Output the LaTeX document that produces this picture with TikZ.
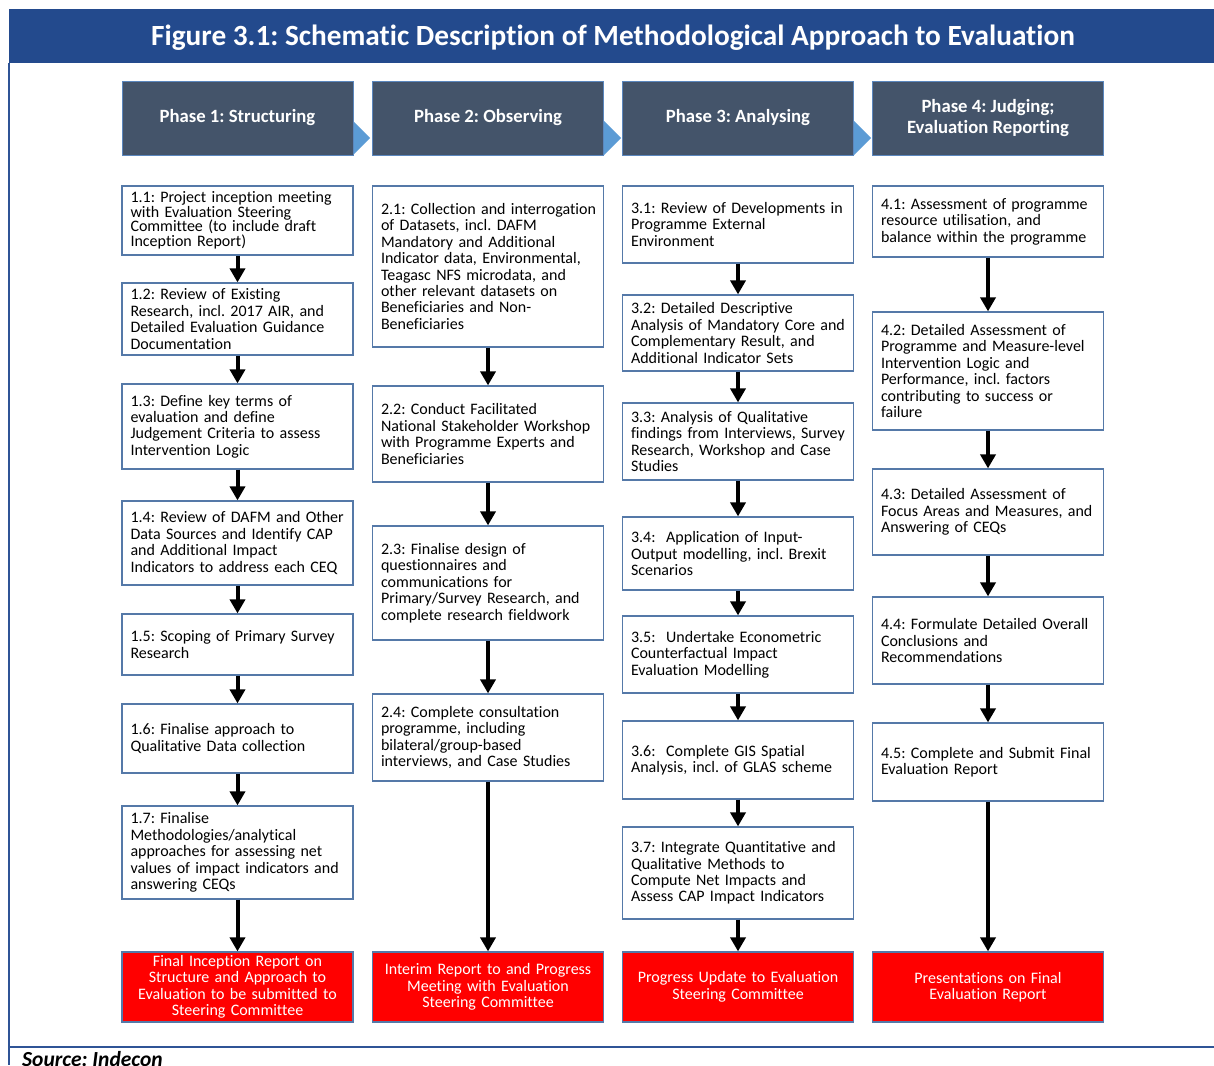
\documentclass[tikz,border=0pt]{standalone}
\usepackage{fontspec}
\setmainfont{Carlito}[Ligatures=NoCommon]
\usetikzlibrary{arrows.meta}
\definecolor{titleblue}{HTML}{234A8D}
\definecolor{frameblue}{HTML}{2F5496}
\definecolor{phasefill}{HTML}{44546A}
\definecolor{phaseline}{HTML}{5B87BE}
\definecolor{tipblue}{HTML}{5B9BD5}
\definecolor{boxline}{HTML}{5579A8}
\frenchspacing
\hyphenpenalty=10000
\exhyphenpenalty=10000

\begin{document}
\begin{tikzpicture}[x=1pt,y=-1pt,
    stepbox/.style={draw=boxline, line width=1.2pt, fill=white, minimum width=231pt,
      text width=214pt, inner xsep=8.5pt, inner ysep=0pt, align=left,
      font=\fontsize{16}{16.4}\selectfont},
    phasebox/.style={draw=phaseline, line width=1pt, fill=phasefill, text=white,
      minimum width=231pt, minimum height=74pt, align=center,
      font=\bfseries\fontsize{18.7}{21.5}\selectfont},
    outbox/.style={draw=boxline, line width=1.2pt, fill=red, text=white,
      minimum width=231pt, minimum height=70pt, text width=214pt, inner xsep=8.5pt,
      align=center, font=\fontsize{16}{16.4}\selectfont},
    nextarrow/.style={line width=4pt, -{Triangle[width=15pt,length=14pt]}},
    tipfill/.style={fill=tipblue}]
    \useasboundingbox (0,0) rectangle (1214,1065);

    % frame and title
    \fill[titleblue] (9,9) rectangle (1214,63);
    \draw[frameblue, line width=2pt] (9,63) -- (9,1065);
    \draw[frameblue, line width=2pt] (9,1047) -- (1214,1047);
    \node[text=white, font=\bfseries\fontsize{29.3}{32}\selectfont] (title) at (613,38)
      {Figure 3.1: Schematic Description of Methodological Approach to Evaluation};
    \node[anchor=base west, inner sep=0pt, font=\bfseries\itshape\fontsize{21.5}{23}\selectfont]
      (source) at (22,1066) {Source: Indecon};

    % phases
    \fill[tipfill] (353,121) -- (370,138) -- (353,155) -- cycle;
    \fill[tipfill] (604,121) -- (621,138) -- (604,155) -- cycle;
    \fill[tipfill] (854,121) -- (871,138) -- (854,155) -- cycle;
    \node[phasebox] (ph1) at (237.5,118) {Phase 1: Structuring};
    \node[phasebox] (ph2) at (488,118) {Phase 2: Observing};
    \node[phasebox] (ph3) at (738,118) {Phase 3: Analysing};
    \node[phasebox] (ph4) at (988,118) {Phase 4: Judging;\\Evaluation Reporting};

    % phase 1
    \node[stepbox, minimum height=69pt, font=\fontsize{16}{14.5}\selectfont] (s11) at (237.5,220.5)
      {1.1: Project inception meeting\\with Evaluation Steering\\Committee (to include draft\\Inception Report)};
    \node[stepbox, minimum height=72pt] (s12) at (237.5,319)
      {1.2: Review of Existing\\Research, incl. 2017 AIR, and\\Detailed Evaluation Guidance\\Documentation};
    \node[stepbox, minimum height=85pt] (s13) at (237.5,426.5)
      {1.3: Define key terms of\\evaluation and define\\Judgement Criteria to assess\\Intervention Logic};
    \node[stepbox, minimum height=84pt] (s14) at (237.5,543)
      {1.4: Review of DAFM and Other\\Data Sources and Identify CAP\\and Additional Impact\\Indicators to address each CEQ};
    \node[stepbox, minimum height=61pt] (s15) at (237.5,644.5)
      {1.5: Scoping of Primary Survey\\Research};
    \node[stepbox, minimum height=69pt] (s16) at (237.5,738.5)
      {1.6: Finalise approach to\\Qualitative Data collection};
    \node[stepbox, minimum height=93pt] (s17) at (237.5,852.5)
      {1.7: Finalise\\Methodologies/analytical\\approaches for assessing net\\values of impact indicators and\\answering CEQs};
    \node[outbox] (out1) at (237.5,987)
      {Final Inception Report on\\Structure and Approach to\\Evaluation to be submitted to\\Steering Committee};

    % phase 2
    \node[stepbox, minimum height=161pt] (s21) at (488,266.5)
      {\mbox{2.1: Collection and interrogation}\\of Datasets, incl. DAFM\\Mandatory and Additional\\Indicator data, Environmental,\\Teagasc NFS microdata, and\\other relevant datasets on\\Beneficiaries and Non-\\Beneficiaries};
    \node[stepbox, minimum height=96pt] (s22) at (488,434)
      {2.2: Conduct Facilitated\\National Stakeholder Workshop\\with Programme Experts and\\Beneficiaries};
    \node[stepbox, minimum height=114pt] (s23) at (488,583)
      {2.3: Finalise design of\\questionnaires and\\communications for\\Primary/Survey Research, and\\complete research fieldwork};
    \node[stepbox, minimum height=87pt] (s24) at (488,737.5)
      {2.4: Complete consultation\\programme, including\\bilateral/group-based\\interviews, and Case Studies};
    \node[outbox] (out2) at (488,987)
      {Interim Report to and Progress\\Meeting with Evaluation\\Steering Committee};

    % phase 3
    \node[stepbox, minimum height=77pt] (s31) at (738,224.5)
      {3.1: Review of Developments in\\Programme External\\Environment};
    \node[stepbox, minimum height=76pt] (s32) at (738,333)
      {3.2: Detailed Descriptive\\Analysis of Mandatory Core and\\Complementary Result, and\\Additional Indicator Sets};
    \node[stepbox, minimum height=77pt] (s33) at (738,441.5)
      {3.3: Analysis of Qualitative\\findings from Interviews, Survey\\Research, Workshop and Case\\Studies};
    \node[stepbox, minimum height=73pt] (s34) at (738,553.5)
      {3.4:\ \ Application of Input-\\Output modelling, incl. Brexit\\Scenarios};
    \node[stepbox, minimum height=77pt] (s35) at (738,654.5)
      {3.5:\ \ Undertake Econometric\\Counterfactual Impact\\Evaluation Modelling};
    \node[stepbox, minimum height=78pt] (s36) at (738,760)
      {3.6:\ \ Complete GIS Spatial\\Analysis, incl. of GLAS scheme};
    \node[stepbox, minimum height=92pt] (s37) at (738,873)
      {3.7: Integrate Quantitative and\\Qualitative Methods to\\Compute Net Impacts and\\Assess CAP Impact Indicators};
    \node[outbox] (out3) at (738,987)
      {Progress Update to Evaluation\\Steering Committee};

    % phase 4
    \node[stepbox, minimum height=71pt] (s41) at (988,221.5)
      {4.1: Assessment of programme\\resource utilisation, and\\balance within the programme};
    \node[stepbox, minimum height=118pt] (s42) at (988,371)
      {4.2: Detailed Assessment of\\Programme and Measure-level\\Intervention Logic and\\Performance, incl. factors\\contributing to success or\\failure};
    \node[stepbox, minimum height=86pt] (s43) at (988,512)
      {4.3: Detailed Assessment of\\Focus Areas and Measures, and\\Answering of CEQs};
    \node[stepbox, minimum height=87pt] (s44) at (988,640.5)
      {4.4: Formulate Detailed Overall\\Conclusions and\\Recommendations};
    \node[stepbox, minimum height=78pt] (s45) at (988,762)
      {4.5: Complete and Submit Final\\Evaluation Report};
    \node[outbox] (out4) at (988,987)
      {Presentations on Final\\Evaluation Report};

    % arrows
    \draw[nextarrow] (s11) -- (s12);
    \draw[nextarrow] (s12) -- (s13);
    \draw[nextarrow] (s13) -- (s14);
    \draw[nextarrow] (s14) -- (s15);
    \draw[nextarrow] (s15) -- (s16);
    \draw[nextarrow] (s16) -- (s17);
    \draw[nextarrow] (s17) -- (out1);
    \draw[nextarrow] (s21) -- (s22);
    \draw[nextarrow] (s22) -- (s23);
    \draw[nextarrow] (s23) -- (s24);
    \draw[nextarrow] (s24) -- (out2);
    \draw[nextarrow] (s31) -- (s32);
    \draw[nextarrow] (s32) -- (s33);
    \draw[nextarrow] (s33) -- (s34);
    \draw[nextarrow] (s34) -- (s35);
    \draw[nextarrow] (s35) -- (s36);
    \draw[nextarrow] (s36) -- (s37);
    \draw[nextarrow] (s37) -- (out3);
    \draw[nextarrow] (s41) -- (s42);
    \draw[nextarrow] (s42) -- (s43);
    \draw[nextarrow] (s43) -- (s44);
    \draw[nextarrow] (s44) -- (s45);
    \draw[nextarrow] (s45) -- (out4);
\end{tikzpicture}
\end{document}
